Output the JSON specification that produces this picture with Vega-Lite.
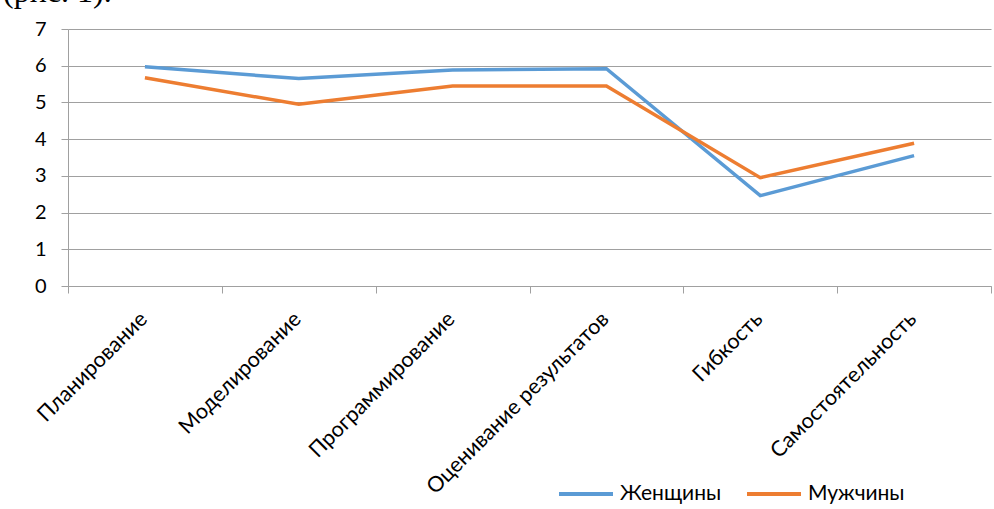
{
  "$schema": "https://vega.github.io/schema/vega-lite/v6.json",
  "width": 923,
  "height": 257,
  "autosize": {"type": "none"},
  "padding": {"left": 68, "top": 29, "right": 3, "bottom": 223},
  "background": "white",
  "title": {"text": "(рис. 1).", "font": "Liberation Serif", "fontSize": 32, "fontWeight": "normal", "anchor": "start", "frame": "group", "dx": -65, "dy": 15, "baseline": "alphabetic", "offset": 0, "color": "black"},
  "data": {"values": [
    {"skill": "Планирование", "gender": "Женщины", "value": 5.97},
    {"skill": "Моделирование", "gender": "Женщины", "value": 5.65},
    {"skill": "Программирование", "gender": "Женщины", "value": 5.88},
    {"skill": "Оценивание результатов", "gender": "Женщины", "value": 5.92},
    {"skill": "Гибкость", "gender": "Женщины", "value": 2.46},
    {"skill": "Самостоятельность", "gender": "Женщины", "value": 3.55},
    {"skill": "Планирование", "gender": "Мужчины", "value": 5.67},
    {"skill": "Моделирование", "gender": "Мужчины", "value": 4.95},
    {"skill": "Программирование", "gender": "Мужчины", "value": 5.45},
    {"skill": "Оценивание результатов", "gender": "Мужчины", "value": 5.45},
    {"skill": "Гибкость", "gender": "Мужчины", "value": 2.95},
    {"skill": "Самостоятельность", "gender": "Мужчины", "value": 3.89}
  ]},
  "mark": {"type": "line", "strokeWidth": 3.5},
  "encoding": {
    "x": {
      "field": "skill", "type": "nominal", "sort": null,
      "scale": {"type": "band", "paddingInner": 0, "paddingOuter": 0},
      "axis": {"title": null, "grid": false, "domainColor": "#a0a0a0", "tickColor": "#a0a0a0", "tickSize": 7, "tickBand": "extent", "labelAngle": -45, "labelFont": "Lato", "labelFontSize": 21.5, "labelColor": "black", "labelPadding": 15, "labelOffset": -9, "labelLimit": 500}
    },
    "y": {
      "field": "value", "type": "quantitative",
      "scale": {"domain": [0, 7], "nice": false},
      "axis": {"title": null, "values": [0,1,2,3,4,5,6,7], "grid": true, "gridColor": "#a0a0a0", "domainColor": "#a0a0a0", "tickColor": "#a0a0a0", "tickSize": 7, "labelPadding": 15, "labelFont": "Lato", "labelFontSize": 20, "labelColor": "black"}
    },
    "color": {
      "field": "gender", "type": "nominal",
      "scale": {"domain": ["Женщины", "Мужчины"], "range": ["#5b9bd5", "#ed7d31"]},
      "legend": {"title": null, "orient": "none", "legendX": 489, "legendY": 436, "direction": "horizontal", "symbolType": "stroke", "symbolSize": 2916, "symbolStrokeWidth": 4, "labelFont": "Lato", "labelFontSize": 21, "labelColor": "black", "labelOffset": 5, "columnPadding": 17}
    }
  },
  "config": {"view": {"stroke": null}}
}
